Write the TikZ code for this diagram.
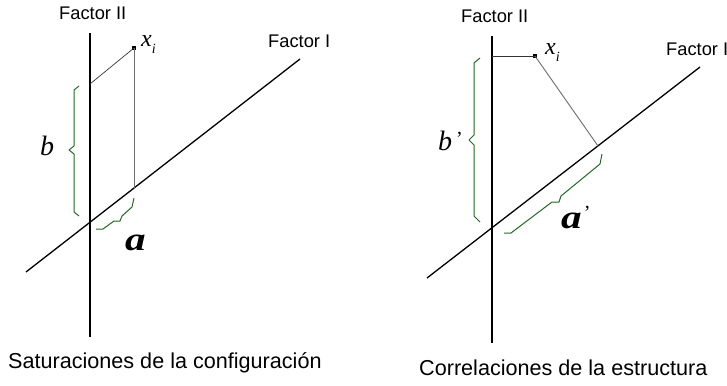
\documentclass[tikz,border=0pt]{standalone}
\usepackage{fontspec}
\setmainfont{Liberation Sans}
\newfontfamily\tms{Liberation Serif}
\definecolor{bgreen}{RGB}{35,105,35}
\definecolor{pgray}{RGB}{110,110,110}
\begin{document}
\begin{tikzpicture}[x=1pt,y=-1pt,
  axis/.style={line width=1.7pt},
  oaxis/.style={line width=1.3pt},
  projk/.style={line width=0.7pt, black!80},
  projg/.style={line width=0.9pt, pgray},
  brc/.style={draw=bgreen, line width=1pt, line join=round},
  flbl/.style={font=\fontsize{18.3}{20}\selectfont, inner sep=0pt, anchor=base west},
  captxt/.style={font=\fontsize{21.6}{24}\selectfont, inner sep=0pt, anchor=base west},
  ptm/.style={fill=black, minimum size=4.5pt, inner sep=0pt},
  xlbl/.style={font=\tms\itshape\fontsize{24}{24}\selectfont, inner sep=0pt, anchor=base west},
  blbl/.style={font=\tms\itshape\fontsize{28}{28}\selectfont, inner sep=0pt, anchor=base west},
  albl/.style={font=\tms\bfseries\itshape\fontsize{33}{33}\selectfont, inner sep=0pt, anchor=base west}]
\useasboundingbox (0,0) rectangle (727,385);
\fill[white] (0,0) rectangle (727,385);
% ---------- left panel ----------
\coordinate (L2t) at (90,33);
\coordinate (L2b) at (90,337);
\coordinate (L1a) at (300,59);
\coordinate (L1b) at (26,272);
\coordinate (Lxb) at (90,84);
\coordinate (Lxa) at (134,188);
\node[ptm] (Lx) at (134,48) {};
\draw[axis] (L2t) -- (L2b);
\draw[oaxis] (L1b) -- (L1a);
\draw[projk] (Lx.center) -- (Lxb);
\draw[projg] (Lx.center) -- (Lxa);
\node[flbl] (LF2) at (59,20) {Factor II};
\node[flbl] (LF1) at (268,48) {Factor I};
\node[xlbl] (Lxl) at (141,47) {x\raisebox{-0.28em}{\fontsize{14}{14}\selectfont i}};
\draw[brc] (79,86) -- (74,90) -- (74,146) -- (69,150) -- (74,154) -- (74,212) -- (79,216);
\node[blbl] (Lb) at (40,155) {b};
\draw[brc] (96,229) -- (103,229) -- (114,221) -- (120,221) -- (122,216) -- (132,207) -- (134,198);
\node[albl] (La) at (125,250) {\scalebox{1.25}[1]{a}};
\node[captxt] (Lcap) at (8,368) {Saturaciones de la configuración};
% ---------- right panel ----------
\coordinate (R2t) at (492,36);
\coordinate (R2b) at (492,343);
\coordinate (R1a) at (700,67);
\coordinate (R1b) at (427,278);
\coordinate (Rxb) at (492,56);
\coordinate (Rxa) at (598,146);
\node[ptm] (Rx) at (535,56) {};
\draw[axis] (R2t) -- (R2b);
\draw[oaxis] (R1b) -- (R1a);
\draw[projk] (Rx.center) -- (Rxb);
\draw[projg] (Rx.center) -- (Rxa);
\node[flbl] (RF2) at (461,23) {Factor II};
\node[flbl] (RF1) at (666,56) {Factor I};
\node[xlbl] (Rxl) at (545,55) {x\raisebox{-0.28em}{\fontsize{14}{14}\selectfont i}};
\draw[brc] (480,58) -- (474,63) -- (474,135) -- (469,140) -- (474,145) -- (474,216) -- (480,222);
\node[blbl] (Rb) at (438,150) {b\hspace{4pt}\raisebox{5pt}{\fontsize{20}{20}\selectfont\upshape ’}};
\draw[brc] (504,233) -- (511,233) -- (552,202) -- (559,202) -- (561,196) -- (600,164) -- (602,154);
\node[albl] (Ra) at (561,228) {\scalebox{1.25}[1]{a}\hspace{2pt}\raisebox{9pt}{\fontsize{20}{20}\selectfont\mdseries\upshape ’}};
\node[captxt] (Rcap) at (419,375) {Correlaciones de la estructura};
\end{tikzpicture}
\end{document}
